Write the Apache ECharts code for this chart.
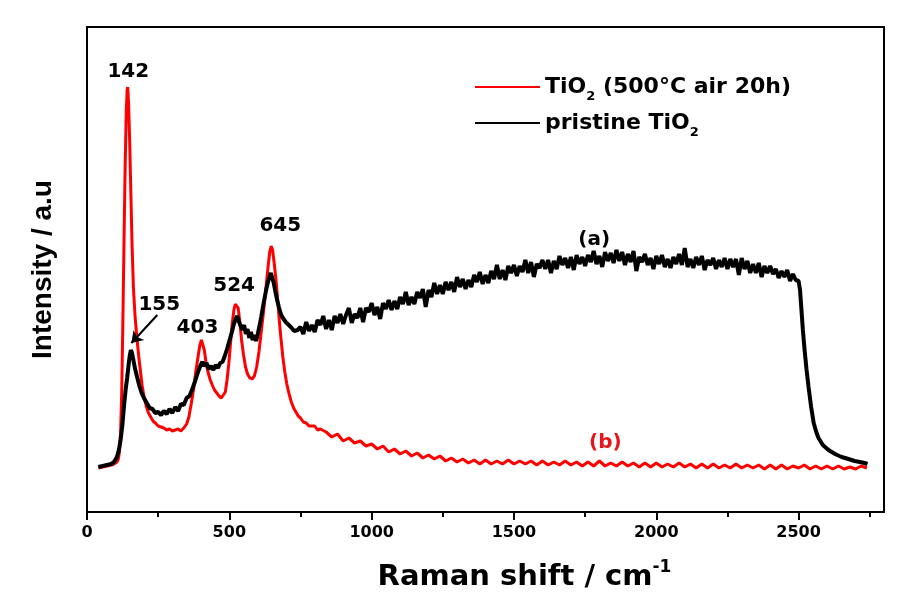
<!DOCTYPE html>
<html>
<head>
<meta charset="utf-8">
<title>Raman spectra of TiO2</title>
<script src="https://cdn.jsdelivr.net/npm/echarts@6/dist/echarts.min.js"></script>
<style>
  html, body { margin: 0; padding: 0; background: #fff; }
  #main { width: 897px; height: 606px; }
</style>
</head>
<body>
<div id="main"></div>
<script>
// x tick positions (Raman shift, cm-1)
const majorTicks = [0, 500, 1000, 1500, 2000, 2500];
const minorTicks = [250, 750, 1250, 1750, 2250, 2750];

const seriesNames = ['TiO2 (500°C air 20h)', 'pristine TiO2'];

// (b) TiO2 annealed 500°C in air, 20 h  -> [shift, intensity a.u.]
const annealed = [
  [40,44],[55,45],[70,46],[85,47],[95,48],[105,50],[110,53],[114,60],[118,80],[122,120],
  [126,190],[130,270],[134,345],[138,400],[141,422],[143,425],[146,410],[150,370],[154,320],[158,270],
  [163,225],[169,195],[176,172],[182,155],[188,140],[194,126],[200,116],[208,106],[216,99],[224,95],
  [232,91],[240,89],[250,86],[260,85],[270,84],[280,82],[290,83],[300,81],[310,82],[320,83],
  [330,81],[340,84],[350,88],[358,95],[366,108],[374,122],[382,140],[390,155],[396,166],[402,172],
  [407,170],[412,162],[418,150],[425,140],[432,133],[440,127],[448,122],[456,119],[464,116],[472,114],
  [479,113],[486,120],[492,132],[498,148],[504,168],[510,188],[516,202],[521,208],[526,210],[531,204],
  [537,190],[543,172],[550,157],[557,145],[564,138],[572,134],[580,133],[588,136],[596,145],[604,160],
  [612,180],[620,200],[628,222],[636,245],[642,260],[647,266],[652,262],[658,248],[664,232],[670,212],
  [676,190],[682,172],[688,155],[695,140],[702,128],[710,118],[718,110],[726,104],[734,100],[742,96],
  [750,94],[760,90],[770,89],[780,86],[790,86],[800,86],[810,82],[820,83],
  [840,80],[860,75],[880,78],[900,71],[920,74],[940,69],[960,71],[980,66],[1000,68],[1020,63],
  [1040,66],[1060,60],[1080,63],[1100,58],[1120,61],[1140,56],[1160,59],[1180,54],[1200,57],[1220,53],
  [1240,56],[1260,51],[1280,54],[1300,50],[1320,53],[1340,49],[1360,52],[1380,48],[1400,52],[1420,48],
  [1440,51],[1460,48],[1480,52],[1500,48],[1520,51],[1540,48],[1560,51],[1580,47],[1600,51],[1620,47],
  [1640,50],[1660,47],[1680,51],[1700,47],[1720,50],[1740,46],[1760,50],[1780,46],[1800,51],[1820,46],
  [1840,49],[1860,46],[1880,50],[1900,46],[1920,49],[1940,45],[1960,49],[1980,45],[2000,49],[2020,45],
  [2040,48],[2060,45],[2080,49],[2100,45],[2120,48],[2140,44],[2160,48],[2180,44],[2200,48],[2220,44],
  [2240,47],[2260,44],[2280,48],[2300,44],[2320,47],[2340,44],[2360,47],[2380,43],[2400,47],[2420,43],
  [2440,47],[2460,43],[2480,46],[2500,44],[2520,47],[2540,43],[2560,46],[2580,43],[2600,46],[2620,43],
  [2640,46],[2660,43],[2680,45],[2700,43],[2720,46],[2740,44]
];

// (a) pristine TiO2
const pristine = [
  [40,45],[55,46],[70,47],[85,48],[95,50],[105,55],[112,62],[118,72],[124,86],[130,106],
  [136,123],[141,134],[146,147],[150,156],[154,162],[158,159],[163,152],[169,143],[176,135],[184,126],
  [192,119],[200,114],[210,109],[220,104],[230,103],[240,99],[250,100],[260,97],[270,101],[280,98],
  [290,103],[300,99],[310,105],[320,101],[330,108],[340,107],[350,114],[360,116],[370,123],[380,131],
  [390,140],[398,146],[405,150],[412,146],[420,149],[428,143],[436,146],[444,142],[452,147],[460,144],
  [468,149],[476,150],[484,156],[492,163],[500,171],[508,179],[515,187],[522,193],[528,196],[534,190],
  [540,189],[546,182],[552,187],[558,178],[564,183],[570,174],[576,180],[582,172],[588,177],[594,171],
  [600,178],[606,186],[612,195],[618,205],[624,214],[630,223],[636,230],[642,236],[646,239],[650,235],
  [656,229],[662,220],[668,212],[674,205],[680,199],[686,195],[692,194],[698,190],[704,188],[716,185],
  [728,181],[740,182],
  [750,185],[760,178],[770,190],[780,181],[790,187],[800,180],[810,192],[820,187],[830,196],[840,183],
  [850,192],[860,182],[870,196],[880,189],[890,198],[900,188],[910,197],[920,204],[930,189],[940,198],
  [950,194],[960,204],[970,190],[980,204],[990,200],[1000,209],[1010,197],[1020,205],[1030,193],[1040,209],
  [1050,203],[1060,212],[1070,202],[1080,211],[1090,203],[1100,215],[1110,208],[1120,220],[1130,207],[1140,215],
  [1150,208],[1160,220],[1170,214],[1180,223],[1190,205],[1200,222],[1210,215],[1220,229],[1230,218],[1240,227],
  [1250,218],[1260,230],[1270,222],[1280,230],[1290,220],[1300,235],[1310,225],[1320,233],[1330,223],[1340,232],
  [1350,225],[1360,237],[1370,230],[1380,240],[1390,228],[1400,237],[1410,229],[1420,241],[1430,233],[1440,247],
  [1450,233],[1460,242],[1470,232],[1480,246],[1490,239],[1500,247],[1510,236],[1520,246],[1530,240],[1540,252],
  [1550,239],[1560,250],[1570,235],[1580,248],[1590,244],[1600,252],[1610,243],[1620,252],[1630,239],[1640,251],
  [1650,243],[1660,256],[1670,247],[1680,254],[1690,244],[1700,255],[1710,242],[1720,257],[1730,248],[1740,255],
  [1750,246],[1760,257],[1770,250],[1780,261],[1790,248],[1800,256],[1810,245],[1820,260],[1830,251],[1840,259],
  [1850,249],[1860,262],[1870,251],[1880,260],[1890,247],[1900,258],[1910,250],[1920,261],[1930,241],[1940,255],
  [1950,250],[1960,258],[1970,247],[1980,254],[1990,243],[2000,256],[2010,248],[2020,257],[2030,245],[2040,253],
  [2050,244],[2060,255],[2070,248],[2080,258],[2090,247],[2100,264],[2110,245],[2120,253],[2130,244],[2140,255],
  [2150,247],[2160,256],[2170,242],[2180,252],[2190,247],[2200,254],[2210,243],[2220,252],[2230,245],[2240,254],
  [2250,243],[2260,253],[2270,245],[2280,253],[2290,237],[2300,254],[2310,243],[2320,251],[2330,239],[2340,248],
  [2350,239],[2360,249],[2370,235],[2380,246],[2390,239],[2400,246],[2410,238],[2420,243],[2430,234],[2440,241],
  [2450,235],[2460,242],[2470,231],[2480,238],[2490,232],[2500,231],
  [2505,222],[2510,202],[2515,182],[2521,162],[2528,142],[2535,125],[2544,105],[2553,89],[2562,80],[2570,74],
  [2585,67],[2605,62],[2628,58],[2651,55],[2675,53],[2697,51],[2715,50],[2732,49],[2742,48]
];

const boldWide = 'DejaVu Sans';
const boldArial = "'Liberation Sans', Arial";

let myChart = echarts.init(document.getElementById('main'));

let option = {
  animation: false,
  backgroundColor: '#fff',
  grid: {
    left: 87, right: 13, top: 27, bottom: 94,
    show: true, borderColor: '#000', borderWidth: 2
  },
  legend: {
    orient: 'vertical',
    left: 470,
    top: 66,
    itemWidth: 65,
    itemHeight: 2,
    itemGap: 4,
    icon: 'rect',
    data: seriesNames,
    formatter: function (name) {
      if (name === seriesNames[0]) return '{t|TiO}{s|2}{t| (500°C air 20h)}';
      return '{t|pristine TiO}{s|2}';
    },
    textStyle: {
      lineHeight: 32,
      rich: {
        t: { fontFamily: boldWide, fontWeight: 'bold', fontSize: 22, color: '#000', lineHeight: 32 },
        s: { fontFamily: boldWide, fontWeight: 'bold', fontSize: 13, color: '#000', lineHeight: 11, verticalAlign: 'bottom' }
      }
    }
  },
  xAxis: [
    {
      type: 'value',
      min: 0,
      max: 2800,
      name: '{n|Raman shift / cm}{p|-1}',
      nameLocation: 'middle',
      nameGap: 47,
      nameTextStyle: {
        padding: [0, 0, 0, 78],
        rich: {
          n: { fontFamily: boldWide, fontWeight: 'bold', fontSize: 29, color: '#000', lineHeight: 36 },
          p: { fontFamily: boldWide, fontWeight: 'bold', fontSize: 17, color: '#000', verticalAlign: 'top' }
        }
      },
      axisLine: { show: true, lineStyle: { color: '#000', width: 2 } },
      axisTick: { show: true, inside: false, length: 8, lineStyle: { width: 2, color: '#000' }, customValues: majorTicks },
      axisLabel: {
        customValues: majorTicks,
        margin: 13,
        formatter: function (v) { return String(v); },
        fontFamily: boldWide, fontWeight: 'bold', fontSize: 16, color: '#000'
      },
      splitLine: { show: false }
    },
    {
      type: 'value',
      min: 0,
      max: 2800,
      position: 'bottom',
      axisLine: { show: false },
      axisTick: { show: true, inside: false, length: 5, lineStyle: { width: 2, color: '#000' }, customValues: minorTicks },
      axisLabel: { show: false },
      splitLine: { show: false }
    }
  ],
  yAxis: {
    type: 'value',
    min: 0,
    max: 485,
    name: 'Intensity / a.u',
    nameLocation: 'middle',
    nameGap: 30,
    nameTextStyle: { fontFamily: boldArial, fontWeight: 'bold', fontSize: 28, color: '#000' },
    axisLine: { show: true, lineStyle: { color: '#000', width: 2 } },
    axisTick: { show: false },
    axisLabel: { show: false },
    splitLine: { show: false }
  },
  series: [
    {
      name: seriesNames[0],
      type: 'line',
      data: annealed,
      showSymbol: false,
      color: '#ff0000',
      lineStyle: { color: '#ff0000', width: 3 },
      z: 2,
      markPoint: {
        symbol: 'circle',
        symbolSize: 0,
        label: { show: true, position: 'inside', formatter: '{b}', fontFamily: boldWide, fontWeight: 'bold', fontSize: 20, color: '#e8141b' },
        data: [{ name: '(b)', coord: [1821, 69] }]
      }
    },
    {
      name: seriesNames[1],
      type: 'line',
      data: pristine,
      showSymbol: false,
      color: '#000',
      lineStyle: { color: '#000', width: 4 },
      z: 3,
      markPoint: {
        symbol: 'circle',
        symbolSize: 0,
        label: { show: true, position: 'inside', formatter: '{b}', fontFamily: boldWide, fontWeight: 'bold', fontSize: 20, color: '#000' },
        data: [
          { name: '142', coord: [145, 440] },
          { name: '155', coord: [254, 207] },
          { name: '403', coord: [388, 184] },
          { name: '524', coord: [517, 226] },
          { name: '645', coord: [679, 286] },
          { name: '(a)', coord: [1782, 272] }
        ]
      },
      markLine: {
        silent: true,
        symbol: ['none', 'arrow'],
        symbolSize: 11,
        label: { show: false },
        lineStyle: { color: '#000', width: 2, type: 'solid' },
        data: [[{ coord: [247, 197] }, { coord: [156, 169] }]]
      }
    }
  ]
};

myChart.setOption(option);
</script>
</body>
</html>
